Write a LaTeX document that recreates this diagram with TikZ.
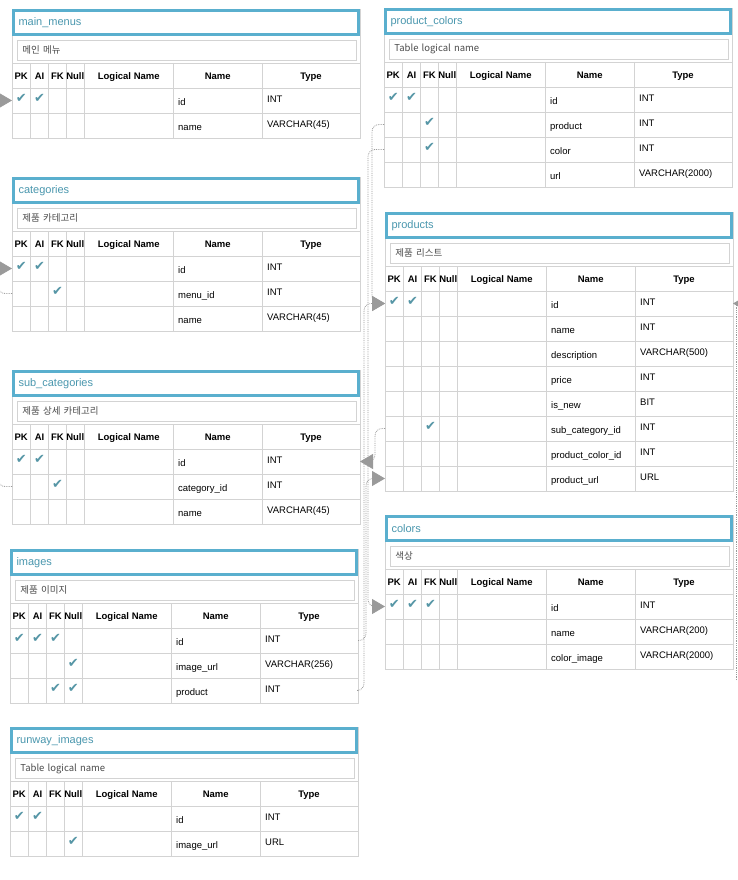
\documentclass[tikz,border=0pt]{standalone}
\usepackage{fontspec}
\setmainfont{Liberation Sans}
\newfontfamily\krfont{Noto Sans CJK KR}
\newfontfamily\symfont{DejaVu Sans}
\usetikzlibrary{arrows.meta,calc,positioning}
\definecolor{TableBlue}{HTML}{5AAFCE}
\definecolor{TitleTeal}{HTML}{4A97AE}
\definecolor{TickTeal}{HTML}{5696A6}
\definecolor{GridGray}{HTML}{D3D3D3}
\definecolor{LinkGray}{HTML}{9A9A9A}

\tikzset{
  titlebox/.style={draw=TableBlue, line width=3pt, fill=white, text=TitleTeal,
    font=\fontsize{11}{12}\selectfont, text width=335pt, inner xsep=5pt,
    minimum height=24pt, align=left, anchor=north west},
  notebox/.style={draw=GridGray, line width=0.8pt, fill=white, text=black!70,
    font=\fontsize{9.5}{11}\krfont, text width=329pt, inner xsep=5pt,
    minimum height=20pt, align=left, anchor=north west},
  colhead/.style={font=\fontsize{9.5}{11}\selectfont\bfseries, inner sep=0pt, anchor=base},
  celltext/.style={font=\fontsize{9.5}{11}\selectfont, inner sep=0pt, anchor=base west},
  rowcell/.style={minimum width=348pt, minimum height=25pt, inner sep=0pt, outer sep=0pt, anchor=north west},
  tick/.style={text=TickTeal, font=\fontsize{13}{13}\symfont, inner sep=0pt},
  gridline/.style={draw=GridGray, line width=0.8pt},
  relline/.style={draw=LinkGray, densely dotted, line width=0.8pt, rounded corners=7pt},
  relarrow/.style={relline, -{Triangle[length=13pt,width=15pt,fill=LinkGray]}}
}

% #1 id, #2 x, #3 y, #4 rows, #5 title, #6 comment, #7 name/type/pk/ai/fk/null
\newcommand{\ertable}[7]{%
  \draw[gridline, fill=white] (#2,#3) rectangle (#2+348,#3+79+25*#4);
  \node[titlebox] (#1) at (#2,#3) {#5};
  \node[notebox] (#1-note) at (#2+5,#3+31) {#6};
  \foreach \cx in {18.5,36.5,54.5,72,161.5,250}
    \draw[gridline] (#2+\cx,#3+54) -- (#2+\cx,#3+79+25*#4);
  \draw[gridline] (#2,#3+54) -- ++(348,0);
  \foreach \hx/\hlabel/\hn in {9.25/PK/pk,27.5/AI/ai,45.5/FK/fk,63.25/Null/null,
      116.75/Logical Name/logical,205.75/Name/hname,299/Type/htype}
    \node[colhead] (#1-\hn) at (#2+\hx,#3+70.5) {\hlabel};
  \foreach \rn/\rt/\cpk/\cai/\cfk/\cnl [count=\i] in {#7} {
    \pgfmathsetmacro{\ry}{#3+79+25*(\i-1)}
    \draw[gridline] (#2,\ry) -- ++(348,0);
    \node[rowcell] (#1-\rn) at (#2,\ry) {};
    \node[celltext] (#1-\rn-label) at (#2+166,\ry+17.5) {\expandafter\detokenize\expandafter{\rn}};
    \node[celltext] (#1-\rn-type) at (#2+255,\ry+14.5) {\rt};
    \ifnum\cpk=1 \node[tick] (#1-\rn-pk) at (#2+9.25,\ry+10) {✔}; \fi
    \ifnum\cai=1 \node[tick] (#1-\rn-ai) at (#2+27.5,\ry+10) {✔}; \fi
    \ifnum\cfk=1 \node[tick] (#1-\rn-fk) at (#2+45.5,\ry+10) {✔}; \fi
    \ifnum\cnl=1 \node[tick] (#1-\rn-null) at (#2+63.25,\ry+10) {✔}; \fi
  }
}

\begin{document}
\begin{tikzpicture}[x=1pt, y=-1pt]
  \fill[white] (0,0) rectangle (738,880);
  \useasboundingbox (0,0) rectangle (738,880);

  % left column
  \ertable{main_menus}{12}{9}{2}{main\_menus}{메인 메뉴}
    {id/INT/1/1/0/0, name/VARCHAR(45)/0/0/0/0}
  \ertable{categories}{12}{177}{3}{categories}{제품 카테고리}
    {id/INT/1/1/0/0, menu_id/INT/0/0/1/0, name/VARCHAR(45)/0/0/0/0}
  \ertable{sub_categories}{12}{370}{3}{sub\_categories}{제품 상세 카테고리}
    {id/INT/1/1/0/0, category_id/INT/0/0/1/0, name/VARCHAR(45)/0/0/0/0}
  \ertable{images}{10}{549}{3}{images}{제품 이미지}
    {id/INT/1/1/1/0, image_url/VARCHAR(256)/0/0/0/1, product/INT/0/0/1/1}
  \ertable{runway_images}{10}{727}{2}{runway\_images}{Table logical name}
    {id/INT/1/1/0/0, image_url/URL/0/0/0/1}

  % right column
  \ertable{product_colors}{384}{8}{4}{product\_colors}{Table logical name}
    {id/INT/1/1/0/0, product/INT/0/0/1/0, color/INT/0/0/1/0, url/VARCHAR(2000)/0/0/0/0}
  \ertable{products}{385}{212}{8}{products}{제품 리스트}
    {id/INT/1/1/0/0, name/INT/0/0/0/0, description/VARCHAR(500)/0/0/0/0,
     price/INT/0/0/0/0, is_new/BIT/0/0/0/0, sub_category_id/INT/0/0/1/0,
     product_color_id/INT/0/0/0/0, product_url/URL/0/0/0/0}
  \ertable{colors}{385}{515}{3}{colors}{색상}
    {id/INT/1/1/1/0, name/VARCHAR(200)/0/0/0/0, color_image/VARCHAR(2000)/0/0/0/0}

  % references
  \draw[relarrow] (categories-menu_id.west) -- ++(-14,0) |- (main_menus-id.west);
  \draw[relarrow] (sub_categories-category_id.west) -- ++(-14,0) |- (categories-id.west);
  \draw[relarrow] (products-sub_category_id.west) -- ++(-10,0) |- (sub_categories-id.east);
  \draw[relarrow] (product_colors-product.west) -- ++(-12,0) |- (products-id.west);
  \draw[relarrow] (product_colors-color.west) -- ++(-16,0) |- (colors-id.west);
  \draw[relarrow] (images-product.east) -- ++(6,0) |- (products-id.west);
  \draw[relarrow] (images-id.east) -- ++(8,0) |- (products-product_url.west);
  \coordinate (colors-link) at (736,680);
  \draw[relline] (colors-link) -- (colors-link |- products-id.east);
  \draw[relarrow] ($(products-id.east)+(16,0)$) -- (products-id.east);
\end{tikzpicture}
\end{document}
